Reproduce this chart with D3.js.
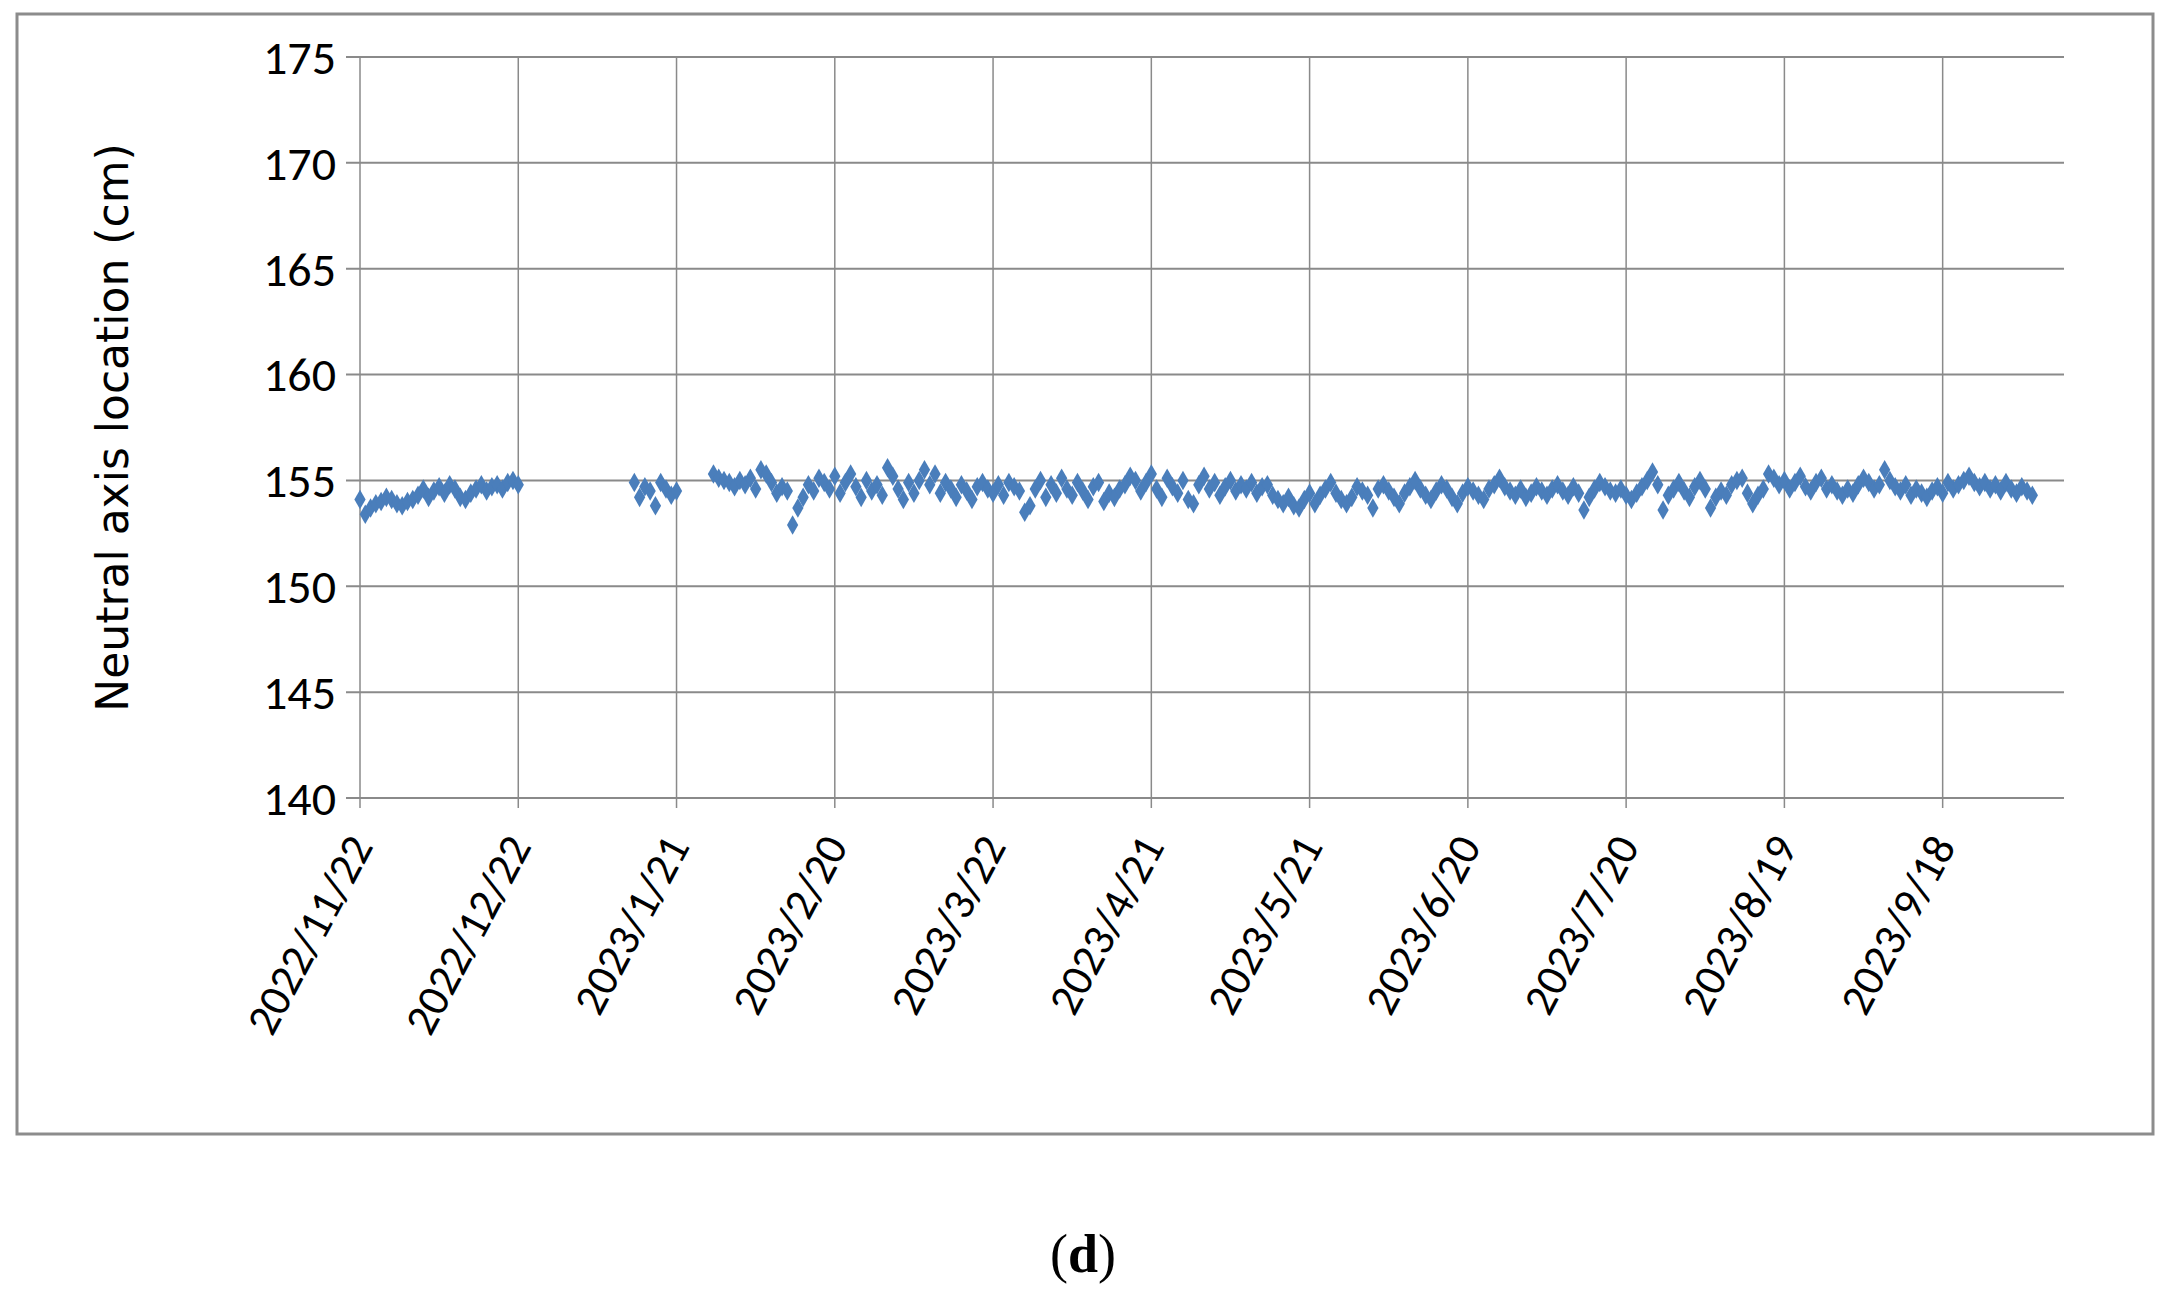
<!DOCTYPE html>
<html>
<head>
<meta charset="utf-8">
<script src="https://cdn.jsdelivr.net/npm/d3@7"></script>
<style>
  body { margin: 0; background: #fff; }
</style>
</head>
<body>
<div id="chart"></div>
<script>
// segment start dates and daily readings (cm)
const segStarts = ["2022-11-22", "2023-01-13", "2023-01-28"];
const segA = [154.1,153.4,153.7,153.9,154.0,154.2,154.1,153.9,153.8,154.0,154.1,154.3,154.6,154.2,154.5,154.7,154.4,154.8,154.6,154.2,
  154.1,154.4,154.6,154.8,154.5,154.7,154.8,154.6,154.9,155.0,154.8];
const segB = [154.9,154.2,154.7,154.5,153.8,154.9,154.6,154.3,154.5];
const segC = [155.3,155.1,155.0,154.9,154.7,155.0,154.8,155.1,154.6,155.5,155.3,154.9,154.4,154.7,154.5,152.9,153.7,154.2,154.8,154.5,
  155.1,154.9,154.6,155.2,154.4,154.9,155.3,154.7,154.2,155.0,154.5,154.8,154.3,155.6,155.2,154.6,154.1,154.9,154.4,155.0,
  155.5,154.8,155.3,154.4,154.9,154.6,154.2,154.8,154.5,154.1,154.7,154.9,154.6,154.4,154.8,154.3,154.9,154.7,154.5,153.5,
  153.8,154.6,155.0,154.2,154.8,154.4,155.1,154.6,154.3,154.9,154.5,154.1,154.7,154.9,154.0,154.4,154.2,154.6,154.8,155.2,
  155.0,154.5,154.9,155.3,154.6,154.2,155.1,154.7,154.4,155.0,154.1,153.9,154.8,155.2,154.6,154.9,154.3,154.7,155.0,154.5,
  154.8,154.6,154.9,154.4,154.7,154.8,154.3,154.1,153.9,154.2,153.8,153.7,154.1,154.4,153.9,154.3,154.6,154.9,154.4,154.1,
  153.9,154.2,154.7,154.5,154.3,153.7,154.6,154.8,154.5,154.2,153.9,154.4,154.7,155.0,154.6,154.3,154.1,154.5,154.8,154.6,
  154.2,153.9,154.4,154.7,154.5,154.3,154.1,154.6,154.8,155.1,154.7,154.5,154.3,154.6,154.2,154.4,154.7,154.5,154.3,154.6,
  154.8,154.5,154.3,154.7,154.4,153.6,154.2,154.6,154.9,154.7,154.5,154.4,154.6,154.3,154.1,154.4,154.7,155.0,155.4,154.8,
  153.6,154.3,154.6,154.9,154.5,154.2,154.7,155.0,154.6,153.7,154.2,154.5,154.3,154.8,155.0,155.1,154.4,153.9,154.3,154.6,
  155.3,155.1,154.8,155.0,154.6,154.9,155.2,154.7,154.5,154.9,155.1,154.6,154.8,154.5,154.3,154.6,154.4,154.8,155.1,154.9,
  154.6,154.8,155.5,155.0,154.7,154.5,154.8,154.3,154.6,154.4,154.2,154.5,154.7,154.4,154.9,154.6,154.8,155.0,155.2,154.9,
  154.7,154.9,154.6,154.8,154.5,154.9,154.6,154.4,154.7,154.5,154.3];
const xTickLabels = ["2022/11/22","2022/12/22","2023/1/21","2023/2/20","2023/3/22","2023/4/21",
  "2023/5/21","2023/6/20","2023/7/20","2023/8/19","2023/9/18"];
const yTicks = [140, 145, 150, 155, 160, 165, 170, 175];

const parse = d3.timeParse("%Y-%m-%d");
const parseTick = d3.timeParse("%Y/%m/%d");
const points = [];
[segA, segB, segC].forEach(function (seg, i) {
    const start = parse(segStarts[i]);
    seg.forEach(function (v, j) {
        points.push({date: d3.timeDay.offset(start, j), value: v});
    });
});

const width = 2164, height = 1312;
const plotLeft = 360, plotRight = 2064, plotTop = 57, plotBottom = 798;

const svg = d3.select("#chart").append("svg")
    .attr("width", width)
    .attr("height", height);

// outer frame
svg.append("rect")
    .attr("x", 17).attr("y", 14)
    .attr("width", 2136).attr("height", 1120)
    .attr("fill", "#fff")
    .attr("stroke", "#8c8c8c")
    .attr("stroke-width", 3);

const x = d3.scaleTime()
    .domain([parseTick("2022/11/22"), parseTick("2023/10/11")])
    .range([plotLeft, plotRight]);
const y = d3.scaleLinear().domain([140, 175]).range([plotBottom, plotTop]);

// vertical grid
svg.append("g").selectAll("line")
    .data(xTickLabels)
    .enter().append("line")
    .attr("x1", d => x(parseTick(d))).attr("x2", d => x(parseTick(d)))
    .attr("y1", plotTop).attr("y2", plotBottom + 10)
    .attr("stroke", "#8a8a8a").attr("stroke-width", 1.5);

// horizontal grid
svg.append("g").selectAll("line")
    .data(yTicks)
    .enter().append("line")
    .attr("x1", plotLeft - 14).attr("x2", plotRight)
    .attr("y1", d => y(d)).attr("y2", d => y(d))
    .attr("stroke", "#8a8a8a").attr("stroke-width", 2);

// y tick labels
svg.append("g").selectAll("text")
    .data(yTicks)
    .enter().append("text")
    .attr("x", plotLeft - 24)
    .attr("y", d => y(d))
    .attr("dy", "0.35em")
    .attr("text-anchor", "end")
    .style("font-family", "Carlito, 'Liberation Sans Narrow', 'Open Sans', sans-serif")
    .style("font-size", "48px")
    .text(d => d);

// x tick labels
svg.append("g").selectAll("text")
    .data(xTickLabels)
    .enter().append("text")
    .attr("transform", d => "translate(" + (x(parseTick(d)) + 14) + "," + (plotBottom + 48) + ") rotate(-62)")
    .attr("text-anchor", "end")
    .style("font-family", "Carlito, 'Liberation Sans Narrow', 'Open Sans', sans-serif")
    .style("font-size", "45px")
    .text(d => d);

// y title
svg.append("text")
    .attr("transform", "translate(128," + ((plotTop + plotBottom) / 2) + ") rotate(-90)")
    .attr("text-anchor", "middle")
    .style("font-family", "'DejaVu Sans', sans-serif")
    .style("font-size", "44px")
    .text("Neutral axis location (cm)");

// points as diamonds
svg.append("g").selectAll("path")
    .data(points)
    .enter().append("path")
    .attr("transform", d => "translate(" + x(d.date) + "," + y(d.value) + ")")
    .attr("d", d3.symbol().type(d3.symbolDiamond).size(110))
    .attr("fill", "#4a7ebb");

// panel label
svg.append("text")
    .attr("x", 1083).attr("y", 1272)
    .attr("text-anchor", "middle")
    .style("font-family", "'Liberation Serif', serif")
    .style("font-size", "54px")
    .html("(<tspan font-weight='bold'>d</tspan>)");
</script>
</body>
</html>
